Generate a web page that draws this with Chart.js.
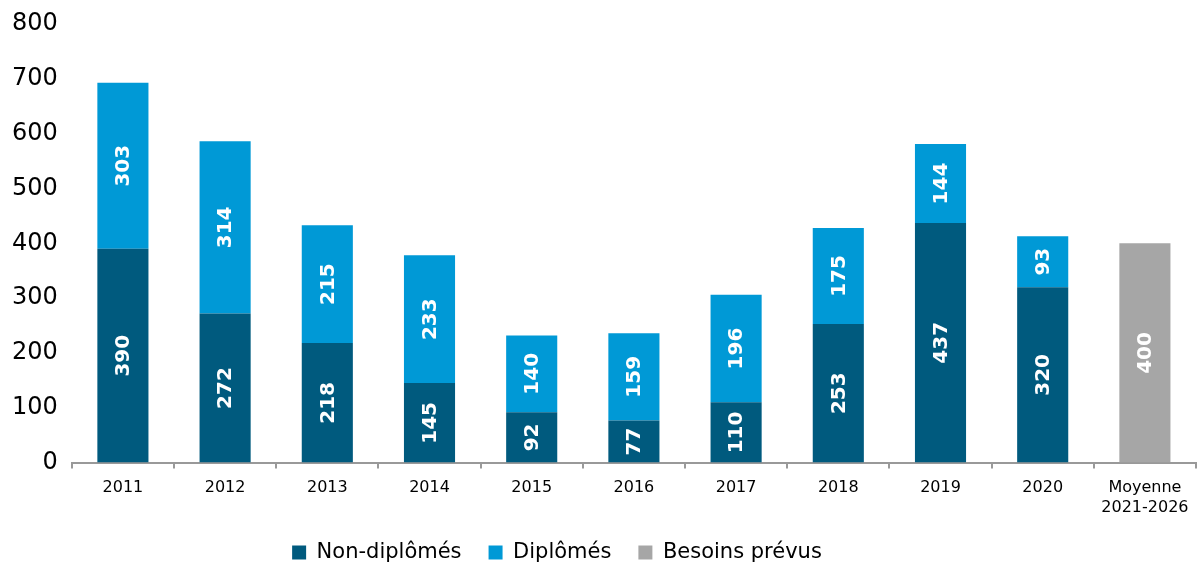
<!DOCTYPE html>
<html>
<head>
<meta charset="utf-8">
<script src="https://cdn.jsdelivr.net/npm/chart.js@4.4.1/dist/chart.umd.min.js"></script>
<style>
  html, body { margin: 0; padding: 0; background: #fff; }
  #wrap { width: 1199px; height: 564px; }
</style>
</head>
<body>
<div id="wrap"><canvas id="chart"></canvas></div>
<script>
const categories = ['2011', '2012', '2013', '2014', '2015', '2016', '2017', '2018', '2019', '2020', ['Moyenne', '2021-2026']];
const nonDiplomes = [390, 272, 218, 145, 92, 77, 110, 253, 437, 320, null];
const diplomes = [303, 314, 215, 233, 140, 159, 196, 175, 144, 93, null];
const besoinsPrevus = [null, null, null, null, null, null, null, null, null, null, 400];
const yTicks = [0, 100, 200, 300, 400, 500, 600, 700, 800];

// white vertical labels in the middle of each bar segment
const barLabels = {
  id: 'barLabels',
  afterDatasetsDraw(chart) {
    const ctx = chart.ctx;
    ctx.save();
    ctx.fillStyle = '#ffffff';
    ctx.font = 'bold 20px "DejaVu Sans"';
    ctx.textAlign = 'center';
    ctx.textBaseline = 'middle';
    chart.data.datasets.forEach((ds, i) => {
      const meta = chart.getDatasetMeta(i);
      meta.data.forEach((bar, j) => {
        const v = ds.data[j];
        if (v == null) return;
        ctx.save();
        ctx.translate(bar.x, (bar.y + bar.base) / 2);
        ctx.rotate(-Math.PI / 2);
        ctx.fillText(String(v), 0, 1);
        ctx.restore();
      });
    });
    ctx.restore();
  }
};

// legend: wide gaps between items but a short box, a bit left of centre
const legendTweak = {
  id: 'legendTweak',
  beforeLayout(chart) {
    const lg = chart.legend;
    if (!lg || lg._patched) return;
    const fit = lg.fit.bind(lg);
    lg.fit = function () { fit(); this.height = 37; };
    lg._patched = true;
  },
  afterLayout(chart) {
    const lg = chart.legend;
    if (!lg) return;
    lg.left -= 40;
    lg.right -= 40;
    lg.top -= 12;
    lg.bottom = chart.height;
  }
};

new Chart(document.getElementById('chart'), {
  type: 'bar',
  data: {
    labels: categories,
    datasets: [
      { label: 'Non-diplômés', data: nonDiplomes, backgroundColor: '#005a7e' },
      { label: 'Diplômés', data: diplomes, backgroundColor: '#0099d6' },
      { label: 'Besoins prévus', data: besoinsPrevus, backgroundColor: '#a6a6a6' }
    ]
  },
  options: {
    responsive: true,
    maintainAspectRatio: false,
    animation: false,
    layout: { padding: { left: -2, right: 3, top: 24, bottom: 0 } },
    datasets: { bar: { categoryPercentage: 1, barPercentage: 0.5, borderWidth: 0 } },
    scales: {
      x: {
        stacked: true,
        grid: { offset: true, drawOnChartArea: false, drawTicks: true, tickLength: 6, color: '#999999', lineWidth: 2 },
        border: { display: true, color: '#999999', width: 2 },
        ticks: { color: '#000', font: { family: 'DejaVu Sans', size: 16 }, padding: 10, maxRotation: 0 }
      },
      y: {
        stacked: true,
        min: 0,
        max: 800,
        afterBuildTicks(axis) { axis.ticks = yTicks.map(v => ({ value: v })); },
        afterFit(axis) { axis.paddingTop = 0; axis.paddingBottom = 0; },
        grid: { display: false, drawTicks: false },
        border: { display: false },
        ticks: { color: '#000', font: { family: 'DejaVu Sans', size: 24 }, padding: 14 }
      }
    },
    plugins: {
      legend: {
        position: 'bottom',
        labels: {
          color: '#000',
          font: { family: 'DejaVu Sans', size: 21 },
          boxWidth: 14,
          boxHeight: 14,
          padding: 27
        }
      },
      tooltip: { enabled: false }
    }
  },
  plugins: [barLabels, legendTweak]
});
</script>
</body>
</html>
